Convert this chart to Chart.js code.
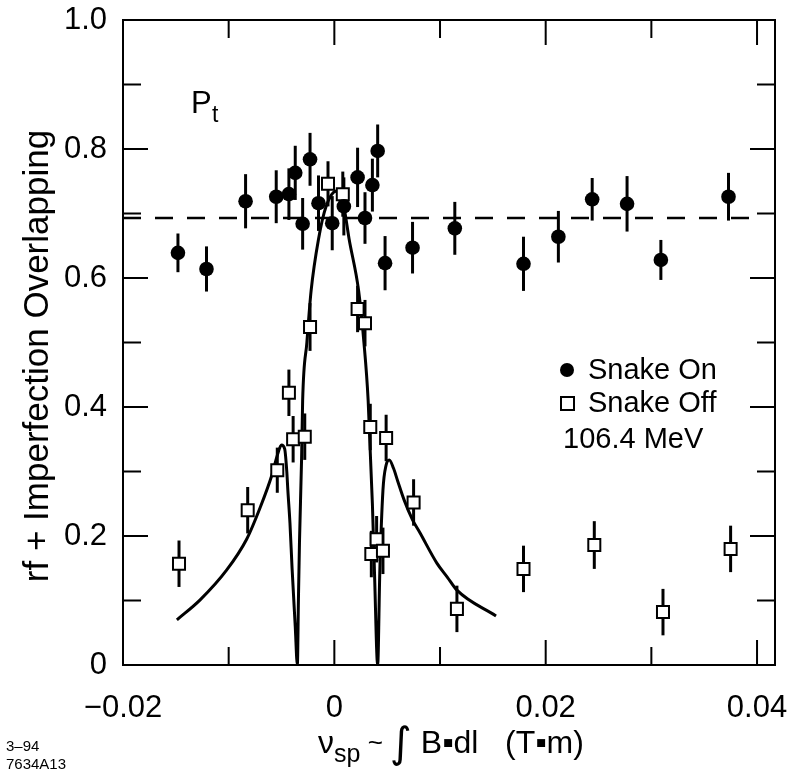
<!DOCTYPE html>
<html>
<head>
<meta charset="utf-8">
<script src="https://cdn.jsdelivr.net/npm/chart.js@4.4.1/dist/chart.umd.min.js"></script>
<style>
  html, body { margin: 0; padding: 0; background: #fff; }
</style>
</head>
<body>
<canvas id="grafico" width="792" height="773"></canvas>
<script>
// Snake On (circulos llenos)
const onX   = [-0.0148, -0.0121, -0.0084, -0.0055, -0.0043, -0.0037, -0.0030, -0.0023, -0.0015, -0.0002, 0.0009, 0.0022, 0.0029, 0.0036, 0.0041, 0.0048, 0.0074, 0.0114, 0.0179, 0.0212, 0.0244, 0.0277, 0.0309, 0.0373]
const onY   = [0.639, 0.614, 0.719, 0.726, 0.730, 0.763, 0.684, 0.784, 0.716, 0.685, 0.711, 0.756, 0.693, 0.744, 0.797, 0.623, 0.647, 0.677, 0.622, 0.664, 0.722, 0.715, 0.628, 0.726]
const onErr = [0.030, 0.035, 0.042, 0.041, 0.040, 0.042, 0.040, 0.041, 0.043, 0.042, 0.045, 0.046, 0.040, 0.041, 0.041, 0.042, 0.040, 0.041, 0.042, 0.040, 0.033, 0.043, 0.031, 0.037]

// Snake Off (cuadrados vacios)
const offX   = [-0.0147, -0.0082, -0.0054, -0.0043, -0.0039, -0.0028, -0.0023, -0.0006, 0.0008, 0.0022, 0.0029, 0.0034, 0.0049, 0.0035, 0.0040, 0.0046, 0.0075, 0.0116, 0.0179, 0.0246, 0.0311, 0.0375]
const offY   = [0.157, 0.240, 0.302, 0.422, 0.350, 0.354, 0.524, 0.746, 0.730, 0.552, 0.530, 0.369, 0.352, 0.172, 0.195, 0.177, 0.252, 0.087, 0.149, 0.186, 0.082, 0.180]
const offErr = [0.036, 0.036, 0.035, 0.036, 0.036, 0.036, 0.037, 0.035, 0.035, 0.036, 0.036, 0.036, 0.036, 0.036, 0.036, 0.036, 0.036, 0.036, 0.036, 0.037, 0.036, 0.036]

// curva teorica
const curvaX = [-0.0149, -0.0127, -0.0102, -0.0083, -0.0070, -0.0059, -0.0054, -0.0050, -0.0047, -0.0045, -0.0044, -0.0042, -0.0040, -0.0037, -0.0035, -0.0034, -0.0033, -0.0031, -0.0030, -0.0026, -0.0022, -0.0015, -0.0008, 0.0002, 0.0009, 0.0014, 0.0023, 0.0028, 0.0032, 0.0036, 0.0038, 0.0041, 0.0043, 0.0046, 0.0049, 0.0052, 0.0056, 0.0060, 0.0066, 0.0074, 0.0081, 0.0097, 0.0107, 0.0116, 0.0153]
const curvaY = [0.070, 0.101, 0.147, 0.195, 0.245, 0.295, 0.325, 0.341, 0.335, 0.300, 0.271, 0.220, 0.150, 0.060, 0.000, 0.100, 0.190, 0.320, 0.410, 0.500, 0.580, 0.660, 0.710, 0.735, 0.710, 0.660, 0.580, 0.500, 0.410, 0.250, 0.143, 0.000, 0.143, 0.271, 0.310, 0.318, 0.305, 0.285, 0.256, 0.225, 0.205, 0.158, 0.136, 0.116, 0.076]

// linea punteada
const lineaX = [-0.02, 0.0405]
const lineaY = [0.693, 0.693]

// ejes
const xMajor = [-0.02, 0, 0.02, 0.04]
const xMinor = [-0.01, 0.01, 0.03]
const xLabels = ['\u22120.02', '0', '0.02', '0.04']
const yMajor = [0, 0.2, 0.4, 0.6, 0.8, 1.0]
const yMinor = [0.1, 0.3, 0.5, 0.7, 0.9]
const yLabels = ['0', '0.2', '0.4', '0.6', '0.8', '1.0']

const fuente = '"Liberation Sans", Arial, Helvetica, sans-serif'

const puntos = (xs, ys) => xs.map((x, i) => ({ x: x, y: ys[i] }))

const marco = {
  id: 'marco',
  beforeDatasetsDraw(chart) {
    const ctx = chart.ctx
    const sx = chart.scales.x, sy = chart.scales.y
    ctx.save()
    ctx.strokeStyle = '#000'
    ctx.lineWidth = 3
    const barras = (xs, ys, es) => {
      xs.forEach((x, i) => {
        const px = sx.getPixelForValue(x)
        ctx.beginPath()
        ctx.moveTo(px, sy.getPixelForValue(ys[i] - es[i]))
        ctx.lineTo(px, sy.getPixelForValue(ys[i] + es[i]))
        ctx.stroke()
      })
    }
    barras(offX, offY, offErr)
    barras(onX, onY, onErr)
    ctx.restore()
  },
  afterDraw(chart) {
    const ctx = chart.ctx
    const a = chart.chartArea
    const sx = chart.scales.x, sy = chart.scales.y
    ctx.save()
    ctx.strokeStyle = '#000'
    ctx.fillStyle = '#000'
    ctx.lineWidth = 2
    ctx.strokeRect(a.left, a.top, a.right - a.left, a.bottom - a.top)

    // marcas hacia adentro en los cuatro lados
    const marcaX = (v, largo) => {
      const px = sx.getPixelForValue(v)
      ctx.beginPath()
      ctx.moveTo(px, a.bottom); ctx.lineTo(px, a.bottom - largo)
      ctx.moveTo(px, a.top); ctx.lineTo(px, a.top + largo)
      ctx.stroke()
    }
    const marcaY = (v, largo) => {
      const py = sy.getPixelForValue(v)
      ctx.beginPath()
      ctx.moveTo(a.left, py); ctx.lineTo(a.left + largo, py)
      ctx.moveTo(a.right, py); ctx.lineTo(a.right - largo, py)
      ctx.stroke()
    }
    xMajor.forEach(v => marcaX(v, 25))
    xMinor.forEach(v => marcaX(v, 18))
    yMajor.forEach(v => marcaY(v, 25))
    yMinor.forEach(v => marcaY(v, 18))

    // etiquetas de los ejes
    ctx.font = '31px ' + fuente
    ctx.textAlign = 'right'
    ctx.textBaseline = 'middle'
    yMajor.forEach((v, i) => ctx.fillText(yLabels[i], a.left - 16, sy.getPixelForValue(v)))
    ctx.textAlign = 'center'
    xMajor.forEach((v, i) => ctx.fillText(xLabels[i], sx.getPixelForValue(v), 708))

    // titulo eje y
    ctx.save()
    ctx.translate(38, 356)
    ctx.rotate(-Math.PI / 2)
    ctx.font = '35px ' + fuente
    ctx.textAlign = 'center'
    ctx.fillText('rf + Imperfection Overlapping', 0, 0)
    ctx.restore()

    // titulo eje x
    ctx.textAlign = 'left'
    ctx.textBaseline = 'alphabetic'
    const partes = [
      ['\u03bd', '32px ' + fuente, 0],
      ['sp', '25px ' + fuente, 9],
      [' ~ ', '26px ' + fuente, -2],
      ['\u222b', '42px "DejaVu Sans"', 4],
      [' B\u25aadl', '32px ' + fuente, 0],
      ['   (T\u25aam)', '32px ' + fuente, 0]
    ]
    let tx = 318
    partes.forEach(p => {
      ctx.font = p[1]
      ctx.fillText(p[0], tx, 753 + p[2])
      tx += ctx.measureText(p[0]).width
    })

    // P_t
    ctx.font = '31px ' + fuente
    ctx.fillText('P', 191, 113)
    ctx.font = '23px ' + fuente
    ctx.fillText('t', 212, 122)

    // leyenda
    ctx.beginPath()
    ctx.arc(567, 370, 7, 0, Math.PI * 2)
    ctx.fill()
    ctx.fillStyle = '#fff'
    ctx.fillRect(561, 397, 13, 13)
    ctx.fillStyle = '#000'
    ctx.strokeRect(561, 397, 13, 13)
    ctx.font = '29px ' + fuente
    ctx.textBaseline = 'middle'
    ctx.fillText('Snake On', 588, 371)
    ctx.fillText('Snake Off', 588, 404)
    ctx.fillText('106.4 MeV', 563, 440)

    // nota esquina
    ctx.font = '15px ' + fuente
    ctx.textBaseline = 'alphabetic'
    ctx.fillText('3\u201394', 6, 751)
    ctx.fillText('7634A13', 6, 769)
    ctx.restore()
  }
}

let ctx = document.getElementById('grafico')
let myChart = new Chart(ctx, {
  type: 'scatter',
  data: {
    datasets: [
      {
        label: 'Snake On',
        data: puntos(onX, onY),
        pointStyle: 'circle',
        pointRadius: 7.3,
        backgroundColor: '#000',
        borderColor: '#000',
        borderWidth: 0,
        order: 0
      },
      {
        label: 'Snake Off',
        data: puntos(offX, offY),
        pointStyle: 'rect',
        pointRadius: 8.5,
        backgroundColor: '#fff',
        borderColor: '#000',
        borderWidth: 2,
        order: 1
      },
      {
        label: 'curva',
        data: puntos(curvaX, curvaY),
        showLine: true,
        pointRadius: 0,
        borderColor: '#000',
        borderWidth: 3,
        cubicInterpolationMode: 'monotone',
        order: 2
      },
      {
        label: 'linea',
        data: puntos(lineaX, lineaY),
        showLine: true,
        pointRadius: 0,
        borderColor: '#000',
        borderWidth: 2.5,
        borderDash: [18, 14],
        order: 3
      }
    ]
  },
  options: {
    responsive: false,
    animation: false,
    layout: { padding: { left: 123, right: 17, top: 20, bottom: 108 } },
    plugins: { legend: { display: false }, tooltip: { enabled: false } },
    scales: {
      x: { type: 'linear', min: -0.02, max: 0.0417, display: false },
      y: { min: 0, max: 1, display: false }
    }
  },
  plugins: [marco]
})
</script>
</body>
</html>
